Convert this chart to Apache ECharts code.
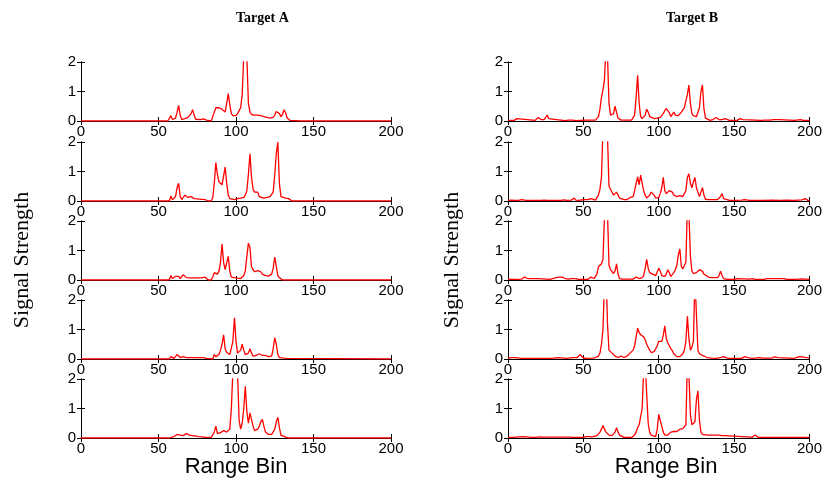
<!DOCTYPE html>
<html>
<head>
<meta charset="utf-8">
<script src="https://cdn.jsdelivr.net/npm/echarts@6/dist/echarts.min.js"></script>
<style>
  html, body { margin: 0; padding: 0; background: #fff; }
  #chart { width: 825px; height: 489px; }
</style>
</head>
<body>
<div id="chart"></div>
<script>
// [range bin, signal strength]; values above 2 are clipped by the axes
const targetA1 = [[0,0],[56,0],[57,0.03],[58,0.18],[59,0.05],[60,0.02],[61,0.1],[62,0.3],[63,0.53],[64,0.2],[65,0.05],[66,0.04],[67,0.08],[68,0.12],[69,0.12],[70,0.15],[71,0.25],[72,0.38],[73,0.2],[74,0.06],[75,0.05],[77,0.05],[78,0.04],[79,0.07],[80,0.08],[81,0.03],[82,0],[84,0],[85,0.05],[86,0.3],[87,0.45],[88,0.5],[89,0.45],[90,0.45],[91,0.4],[92,0.35],[93,0.3],[94,0.6],[95,0.93],[96,0.55],[97,0.25],[98,0.18],[99,0.15],[100,0.18],[101,0.25],[102,0.3],[103,0.45],[104,0.9],[105,2.2],[106,3],[107,2.2],[108,0.6],[109,0.3],[110,0.22],[112,0.2],[114,0.2],[116,0.18],[118,0.15],[120,0.12],[122,0.1],[124,0.12],[125,0.2],[126,0.32],[127,0.38],[128,0.25],[129,0.15],[130,0.22],[131,0.38],[132,0.28],[133,0.1],[134,0.05],[135,0.02],[136,0],[142,0],[143,0.03],[144,0],[200,0]];
const targetA2 = [[0,0],[57,0],[58,0.17],[59,0.04],[60,0.03],[61,0.15],[62,0.45],[63,0.6],[64,0.15],[65,0.05],[66,0.12],[67,0.2],[68,0.2],[69,0.12],[70,0.1],[71,0.15],[72,0.15],[73,0.08],[74,0.05],[80,0.05],[81,0.02],[82,0],[84,0],[85,0.1],[86,0.6],[87,1.3],[88,0.9],[89,0.65],[90,0.62],[91,0.55],[92,0.6],[93,1.15],[94,0.6],[95,0.2],[96,0.08],[97,0.05],[99,0.05],[101,0.08],[103,0.1],[105,0.12],[106,0.2],[107,0.35],[108,0.9],[109,1.6],[110,0.8],[111,0.4],[112,0.3],[113,0.3],[114,0.3],[115,0.15],[116,0.1],[118,0.1],[120,0.12],[121,0.15],[122,0.15],[123,0.15],[124,0.3],[125,0.9],[126,1.6],[127,2.0],[128,0.6],[129,0.15],[130,0.1],[132,0.1],[133,0.12],[134,0.08],[135,0.02],[136,0],[141,0],[142,0.05],[143,0],[200,0]];
const targetA3 = [[0,0],[57,0],[58,0.15],[59,0.05],[60,0.05],[61,0.12],[62,0.18],[63,0.12],[64,0.05],[65,0.1],[66,0.18],[67,0.12],[68,0.08],[70,0.07],[78,0.07],[79,0.1],[80,0.1],[81,0.05],[82,0],[84,0],[85,0.1],[86,0.25],[87,0.2],[88,0.2],[89,0.3],[90,0.6],[91,1.22],[92,0.6],[93,0.35],[94,0.4],[95,0.8],[96,0.3],[97,0.1],[98,0.05],[103,0.05],[104,0.08],[105,0.15],[106,0.3],[107,0.8],[108,1.25],[109,1.1],[110,0.45],[111,0.35],[112,0.28],[113,0.25],[114,0.32],[115,0.35],[116,0.28],[117,0.2],[118,0.17],[119,0.15],[120,0.15],[121,0.13],[122,0.12],[123,0.2],[124,0.4],[125,0.78],[126,0.45],[127,0.15],[128,0.08],[129,0.03],[130,0],[200,0]];
const targetA4 = [[0,0],[57,0],[58,0.08],[59,0.02],[60,0.02],[61,0.08],[62,0.15],[63,0.12],[64,0.05],[65,0.05],[66,0.08],[67,0.08],[68,0.05],[79,0.05],[80,0.08],[81,0.02],[82,0],[85,0],[86,0.15],[87,0.08],[88,0.05],[89,0.15],[90,0.3],[91,0.5],[92,0.82],[93,0.35],[94,0.22],[95,0.2],[96,0.15],[97,0.12],[98,0.6],[99,1.4],[100,0.6],[101,0.2],[102,0.15],[103,0.3],[104,0.5],[105,0.3],[106,0.15],[107,0.12],[108,0.2],[109,0.35],[110,0.2],[111,0.1],[112,0.1],[113,0.12],[114,0.15],[115,0.18],[116,0.18],[117,0.12],[118,0.1],[119,0.12],[120,0.12],[121,0.08],[122,0.05],[123,0.1],[124,0.35],[125,0.72],[126,0.5],[127,0.15],[128,0.05],[129,0.05],[131,0.03],[133,0.02],[134,0],[200,0]];
const targetA5 = [[0,0],[57,0],[58,0.05],[60,0.05],[61,0.05],[62,0.12],[63,0.18],[64,0.1],[65,0.05],[66,0.08],[67,0.12],[68,0.15],[69,0.18],[70,0.1],[71,0.05],[76,0.05],[77,0.07],[78,0.04],[80,0.02],[84,0.02],[85,0.05],[86,0.2],[87,0.4],[88,0.15],[89,0.1],[90,0.18],[91,0.2],[92,0.25],[93,0.2],[94,0.2],[95,0.25],[96,0.3],[97,1.0],[98,2.3],[99,3.5],[100,3.5],[101,2.2],[102,0.6],[103,0.3],[104,0.5],[105,1.0],[106,1.75],[107,0.9],[108,0.5],[109,0.85],[110,0.8],[111,0.4],[112,0.25],[113,0.25],[114,0.3],[115,0.4],[116,0.55],[117,0.63],[118,0.4],[119,0.2],[120,0.15],[121,0.12],[122,0.12],[123,0.12],[124,0.15],[125,0.3],[126,0.55],[127,0.7],[128,0.35],[129,0.1],[130,0.05],[132,0.03],[134,0],[200,0]];

const targetB1 = [[0,0.02],[1,0.05],[2,0.02],[4,0.02],[5,0.05],[6,0.08],[7,0.02],[18,0.02],[19,0.08],[20,0.12],[21,0.06],[22,0.05],[24,0.05],[25,0.12],[26,0.2],[27,0.08],[28,0.03],[35,0.03],[38,0.01],[40,0.03],[43,0.03],[45,0.01],[48,0.02],[52,0.03],[58,0.03],[59,0.05],[60,0.15],[61,0.4],[62,0.8],[63,1.05],[64,1.4],[65,2.6],[66,2.2],[67,0.6],[68,0.2],[69,0.15],[70,0.25],[71,0.5],[72,0.3],[73,0.1],[74,0.05],[75,0.03],[82,0.03],[83,0.05],[84,0.2],[85,0.8],[86,1.55],[87,0.6],[88,0.15],[89,0.08],[90,0.05],[91,0.2],[92,0.4],[93,0.3],[94,0.15],[95,0.1],[97,0.08],[99,0.1],[101,0.12],[102,0.15],[103,0.25],[104,0.35],[105,0.42],[106,0.35],[107,0.28],[108,0.15],[109,0.2],[110,0.3],[111,0.2],[112,0.15],[113,0.18],[114,0.22],[115,0.3],[116,0.35],[117,0.45],[118,0.5],[119,0.9],[120,1.22],[121,0.6],[122,0.25],[123,0.18],[124,0.15],[125,0.15],[126,0.2],[127,0.45],[128,1.0],[129,1.22],[130,0.4],[131,0.1],[132,0.05],[134,0.02],[136,0.05],[137,0.1],[138,0.12],[139,0.1],[140,0.05],[141,0.03],[142,0.05],[143,0.1],[144,0.08],[145,0.03],[147,0.02],[152,0.02],[154,0.08],[155,0.12],[156,0.05],[157,0.02],[168,0.02],[170,0.03],[174,0.03],[175,0.05],[176,0.05],[177,0.02],[180,0.05],[181,0.02],[190,0.02],[194,0.05],[195,0.04],[196,0.02],[200,0.02]];
const targetB2 = [[0,0.02],[2,0.03],[5,0.02],[7,0.02],[9,0.05],[10,0.03],[12,0.02],[22,0.02],[23,0.05],[24,0.03],[26,0.02],[35,0.02],[37,0.04],[39,0.02],[42,0.03],[43,0.06],[44,0.1],[45,0.03],[47,0.02],[50,0.05],[51,0.03],[53,0.05],[54,0.08],[55,0.08],[56,0.04],[58,0.03],[59,0.08],[60,0.2],[61,0.4],[62,0.8],[63,2.5],[64,3.5],[65,3.5],[66,2.2],[67,0.5],[68,0.4],[69,0.35],[70,0.2],[71,0.2],[72,0.3],[73,0.2],[74,0.1],[75,0.07],[77,0.05],[79,0.05],[80,0.08],[81,0.12],[82,0.1],[83,0.15],[84,0.35],[85,0.6],[86,0.82],[87,0.55],[88,0.88],[89,0.6],[90,0.35],[91,0.2],[92,0.1],[93,0.1],[94,0.2],[95,0.3],[96,0.25],[97,0.2],[98,0.1],[99,0.06],[100,0.12],[101,0.25],[102,0.45],[103,0.8],[104,0.35],[105,0.25],[106,0.28],[107,0.35],[108,0.4],[109,0.3],[110,0.2],[111,0.15],[112,0.15],[113,0.15],[114,0.18],[115,0.2],[116,0.15],[117,0.15],[118,0.35],[119,0.8],[120,0.92],[121,0.6],[122,0.45],[123,0.65],[124,0.8],[125,0.45],[126,0.3],[127,0.15],[128,0.3],[129,0.45],[130,0.2],[131,0.06],[133,0.05],[139,0.05],[140,0.08],[141,0.15],[142,0.25],[143,0.08],[144,0.03],[147,0.02],[150,0.02],[155,0.03],[157,0.05],[158,0.03],[160,0.02],[170,0.02],[175,0.03],[180,0.02],[185,0.03],[190,0.02],[195,0.04],[196,0.07],[197,0.08],[198,0.04],[199,0.02],[200,0.02]];
const targetB3 = [[0,0.02],[4,0.02],[5,0.04],[6,0.02],[9,0.03],[10,0.08],[11,0.1],[12,0.06],[13,0.05],[15,0.05],[20,0.05],[21,0.02],[28,0.02],[29,0.06],[32,0.08],[34,0.1],[35,0.12],[36,0.1],[38,0.05],[40,0.03],[42,0.05],[45,0.05],[47,0.02],[53,0.02],[54,0.07],[55,0.1],[56,0.07],[57,0.05],[58,0.1],[59,0.2],[60,0.45],[61,0.5],[62,0.55],[63,0.7],[64,2.2],[65,3.5],[66,2.3],[67,0.5],[68,0.35],[69,0.3],[70,0.22],[71,0.3],[72,0.55],[73,0.2],[74,0.05],[76,0.03],[83,0.03],[84,0.07],[85,0.1],[86,0.07],[87,0.05],[88,0.05],[89,0.08],[90,0.15],[91,0.4],[92,0.7],[93,0.4],[94,0.25],[95,0.22],[96,0.2],[97,0.2],[98,0.15],[99,0.15],[100,0.4],[101,0.3],[102,0.15],[103,0.1],[104,0.12],[105,0.2],[106,0.35],[107,0.25],[108,0.12],[109,0.15],[110,0.25],[111,0.35],[112,0.5],[113,0.85],[114,1.05],[115,0.45],[116,0.38],[117,0.4],[118,0.6],[119,2.5],[120,2.3],[121,0.8],[122,0.3],[123,0.22],[124,0.2],[125,0.25],[126,0.3],[127,0.35],[128,0.35],[129,0.3],[130,0.2],[131,0.15],[133,0.1],[135,0.08],[137,0.08],[139,0.08],[140,0.15],[141,0.3],[142,0.15],[143,0.05],[145,0.02],[150,0.02],[152,0.05],[153,0.02],[160,0.03],[162,0.05],[164,0.02],[170,0.02],[172,0.05],[177,0.05],[178,0.02],[180,0.05],[183,0.05],[185,0.02],[189,0.02],[190,0.04],[191,0.02],[195,0.04],[196,0.02],[200,0.02]];
const targetB4 = [[0,0.02],[2,0.05],[5,0.05],[6,0.02],[9,0.02],[10,0.04],[11,0.02],[17,0.02],[18,0.05],[19,0.02],[29,0.02],[30,0.05],[33,0.05],[34,0.02],[39,0.02],[40,0.05],[43,0.05],[44,0.03],[46,0.05],[47,0.1],[48,0.15],[49,0.08],[50,0.05],[51,0.02],[56,0.03],[58,0.05],[60,0.1],[61,0.2],[62,0.5],[63,1.0],[64,2.6],[65,3.0],[66,1.2],[67,0.3],[68,0.25],[69,0.2],[70,0.15],[71,0.1],[73,0.05],[74,0.05],[75,0.1],[76,0.08],[77,0.05],[78,0.06],[79,0.1],[80,0.15],[81,0.2],[82,0.22],[83,0.3],[84,0.45],[85,0.75],[86,1.05],[87,0.9],[88,0.82],[89,0.8],[90,0.75],[91,0.65],[92,0.5],[93,0.4],[94,0.3],[95,0.22],[96,0.2],[97,0.25],[98,0.35],[99,0.45],[100,0.6],[101,0.58],[102,0.6],[103,0.8],[104,1.12],[105,0.7],[106,0.55],[107,0.45],[108,0.35],[109,0.28],[110,0.18],[111,0.12],[112,0.08],[113,0.06],[114,0.08],[115,0.12],[116,0.18],[117,0.3],[118,0.6],[119,1.45],[120,0.7],[121,0.3],[122,0.4],[123,0.6],[124,2.8],[125,1.5],[126,0.3],[127,0.18],[128,0.15],[129,0.12],[130,0.1],[132,0.05],[135,0.03],[138,0.02],[141,0.05],[142,0.1],[143,0.08],[145,0.04],[147,0.02],[155,0.02],[157,0.08],[158,0.1],[159,0.05],[162,0.02],[167,0.05],[168,0.08],[169,0.03],[175,0.03],[177,0.07],[178,0.08],[179,0.05],[180,0.03],[190,0.02],[193,0.08],[194,0.12],[195,0.07],[196,0.04],[198,0.05],[200,0.04]];
const targetB5 = [[0,0.02],[3,0.02],[4,0.05],[10,0.05],[11,0.02],[16,0.02],[17,0.05],[18,0.02],[21,0.04],[22,0.08],[23,0.03],[32,0.03],[33,0.05],[34,0.03],[41,0.03],[42,0.05],[43,0.02],[50,0.02],[52,0.05],[54,0.05],[56,0.04],[57,0.05],[59,0.08],[60,0.12],[61,0.2],[62,0.3],[63,0.42],[64,0.3],[65,0.2],[66,0.15],[67,0.1],[68,0.08],[69,0.08],[70,0.12],[71,0.2],[72,0.35],[73,0.2],[74,0.1],[75,0.05],[77,0.02],[82,0.02],[83,0.05],[84,0.1],[85,0.2],[86,0.35],[87,0.45],[88,0.5],[89,1.0],[90,2.3],[91,2.6],[92,1.5],[93,0.5],[94,0.2],[95,0.1],[96,0.05],[98,0.05],[99,0.3],[100,0.8],[101,0.6],[102,0.4],[103,0.2],[104,0.1],[105,0.1],[106,0.1],[107,0.15],[108,0.2],[109,0.25],[110,0.22],[111,0.2],[112,0.22],[113,0.25],[114,0.3],[115,0.35],[116,0.32],[117,0.3],[118,0.45],[119,2.6],[120,2.2],[121,0.8],[122,0.45],[123,0.5],[124,0.55],[125,1.3],[126,1.6],[127,0.6],[128,0.2],[129,0.12],[130,0.1],[132,0.1],[140,0.1],[142,0.08],[144,0.08],[145,0.05],[155,0.05],[156,0.02],[162,0.03],[164,0.1],[165,0.05],[166,0.02],[171,0.02],[172,0.05],[173,0.02],[179,0.02],[180,0.05],[181,0.02],[192,0.02],[193,0.05],[194,0.02],[200,0.02]];

const columnTitles = ['Target A', 'Target B'];
const columns = [
  [targetA1, targetA2, targetA3, targetA4, targetA5],
  [targetB1, targetB2, targetB3, targetB4, targetB5]
];

const chart = echarts.init(document.getElementById('chart'));

const colLeft = [81, 508];
const colWidth = [310, 309];
const rowTop = [62, 142, 221, 300, 379];
const rowHeight = 59;
const tickFont = { fontFamily: 'Liberation Sans', fontSize: 15, color: '#000' };
const blackLine = { lineStyle: { color: '#000', width: 1 } };

let grid = [], xAxis = [], yAxis = [], series = [];
columns.forEach((col, c) => {
  col.forEach((data, r) => {
    const g = grid.length;
    grid.push({ left: colLeft[c], top: rowTop[r], width: colWidth[c], height: rowHeight });
    xAxis.push({
      type: 'value', gridIndex: g, min: 0, max: 200, interval: 50, position: 'bottom',
      axisLine: blackLine, splitLine: { show: false },
      axisTick: { inside: true, length: 4, lineStyle: { color: '#000' } },
      axisLabel: Object.assign({ margin: 3, showMaxLabel: true }, tickFont)
    });
    xAxis.push({
      type: 'value', gridIndex: g, min: 0, max: 200, interval: 50, position: 'top',
      axisLine: blackLine, splitLine: { show: false },
      axisTick: { inside: true, length: 4, lineStyle: { color: '#000' } },
      axisLabel: { show: false }
    });
    yAxis.push({
      type: 'value', gridIndex: g, min: 0, max: 2, interval: 1, position: 'left',
      axisLine: blackLine, splitLine: { show: false },
      axisTick: { inside: true, length: 4, lineStyle: { color: '#000' } },
      axisLabel: Object.assign({ margin: 5 }, tickFont)
    });
    yAxis.push({
      type: 'value', gridIndex: g, min: 0, max: 2, interval: 1, position: 'right',
      axisLine: blackLine, splitLine: { show: false },
      axisTick: { inside: true, length: 4, lineStyle: { color: '#000' } },
      axisLabel: { show: false }
    });
    series.push({
      type: 'line', xAxisIndex: 2 * g, yAxisIndex: 2 * g, data: data,
      showSymbol: false, clip: true, animation: false,
      lineStyle: { color: '#ff0000', width: 1.3 }
    });
  });
});

const titleX = [236, 666];
let graphic = [];
titleX.forEach((x, c) => {
  graphic.push({
    type: 'text', left: x, top: 11,
    style: { text: columnTitles[c], font: 'bold 14px "Liberation Serif"', fill: '#000', align: 'center' }
  });
  graphic.push({
    type: 'text', x: x, y: 467,
    style: { text: 'Range Bin', font: '22px "Liberation Sans"', fill: '#000', align: 'center', verticalAlign: 'middle' }
  });
});
[22, 452].forEach(x => {
  graphic.push({
    type: 'text', x: x, y: 260, rotation: Math.PI / 2,
    style: { text: 'Signal Strength', font: '22px "Liberation Serif"', fill: '#000', align: 'center', verticalAlign: 'middle' }
  });
});

chart.setOption({
  animation: false,
  grid: grid,
  xAxis: xAxis,
  yAxis: yAxis,
  series: series,
  graphic: graphic
});
</script>
</body>
</html>
